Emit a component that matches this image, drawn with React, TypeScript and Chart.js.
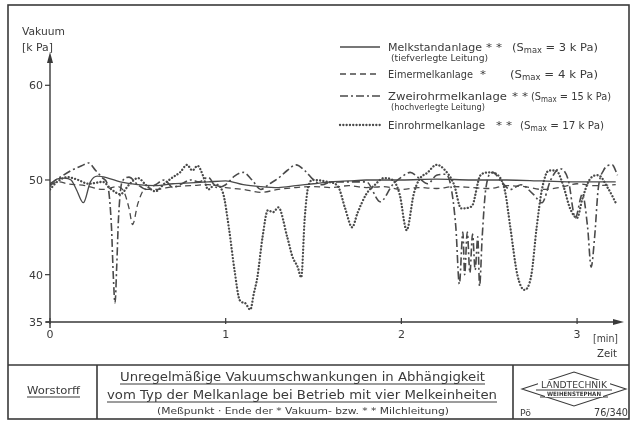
import React, { useEffect, useRef } from "react";
import { Chart, registerables } from "chart.js";

Chart.register(...registerables);

// ---- data (time in min, vacuum in kPa) ----
const melkstandTime = [0, 0.03, 0.08, 0.12, 0.15, 0.19, 0.23, 0.27, 0.33, 0.4, 0.5, 0.6, 0.7, 0.8, 0.9, 1.0, 1.1, 1.2, 1.3, 1.4, 1.5, 1.6, 1.7, 1.8, 1.9, 2.0, 2.2, 2.4, 2.6, 2.8, 3.0, 3.22];
const melkstandVac = [49.3, 50.0, 50.2, 50.0, 49.0, 47.6, 49.8, 50.4, 50.2, 49.8, 49.5, 49.4, 49.6, 49.7, 49.8, 49.9, 49.5, 49.3, 49.2, 49.4, 49.6, 49.8, 49.9, 50.0, 50.0, 50.0, 50.1, 50.0, 50.0, 49.9, 49.8, 49.8];

const eimerTime = [0, 0.05, 0.1, 0.2, 0.3, 0.38, 0.42, 0.45, 0.47, 0.5, 0.54, 0.6, 0.7, 0.8, 0.9, 1.0, 1.1, 1.2, 1.3, 1.4, 1.5, 1.6, 1.7, 1.8, 1.9, 2.0, 2.1, 2.2, 2.3, 2.4, 2.5, 2.6, 2.7, 2.8, 2.9, 3.0, 3.1, 3.22];
const eimerVac = [49.5, 49.8, 49.6, 49.4, 49.0, 49.3, 48.8, 47.0, 45.3, 47.5, 49.0, 49.0, 49.3, 49.4, 49.5, 49.2, 49.0, 48.7, 49.0, 49.2, 49.3, 49.2, 49.4, 49.2, 49.3, 49.0, 49.2, 49.1, 49.3, 49.2, 49.1, 49.4, 49.3, 49.0, 49.2, 49.6, 49.4, 49.5];

const zweirohrTime = [0, 0.05, 0.12, 0.18, 0.22, 0.26, 0.3, 0.33, 0.35, 0.36, 0.37, 0.38, 0.39, 0.41, 0.45, 0.5, 0.55, 0.6, 0.65, 0.7, 0.75, 0.8, 0.85, 0.9, 0.95, 1.0, 1.05, 1.1, 1.15, 1.2, 1.25, 1.3, 1.35, 1.4, 1.45, 1.5, 1.55, 1.6, 1.7, 1.8, 1.88, 1.95, 2.0, 2.05, 2.1, 2.15, 2.2, 2.25, 2.28, 2.31, 2.33, 2.35, 2.36, 2.375, 2.39, 2.405, 2.42, 2.435, 2.445, 2.46, 2.48, 2.52, 2.57, 2.62, 2.68, 2.75, 2.8, 2.85, 2.9, 2.95, 2.99, 3.03, 3.06, 3.08, 3.1, 3.12, 3.15, 3.2, 3.23];
const zweirohrVac = [49.6, 50.2, 51.0, 51.5, 51.8, 51.0, 50.2, 49.3, 45.0, 40.0, 37.0, 41.0, 46.0, 49.8, 50.3, 49.5, 49.0, 49.5, 50.0, 49.2, 49.6, 50.0, 49.8, 50.3, 49.2, 49.5, 50.4, 50.8, 50.0, 49.0, 49.6, 50.2, 51.0, 51.6, 51.0, 50.0, 49.5, 49.8, 49.8, 49.8, 47.7, 49.5, 50.3, 50.8, 50.2, 49.6, 50.5, 50.6, 49.5, 45.0, 39.0, 44.5, 40.0, 44.5, 40.2, 44.3, 40.5, 44.0, 38.8, 44.0, 49.0, 50.8, 49.8, 49.0, 49.5, 48.5, 47.6, 50.0, 51.2, 50.0, 46.0, 48.5, 45.0, 40.8, 44.0, 49.0, 51.0, 51.6, 50.5];

const einrohrTime = [0, 0.04, 0.1, 0.16, 0.22, 0.3, 0.35, 0.4, 0.45, 0.5, 0.55, 0.6, 0.65, 0.7, 0.74, 0.78, 0.81, 0.84, 0.87, 0.9, 0.94, 0.985, 1.02, 1.05, 1.08, 1.11, 1.14, 1.16, 1.18, 1.21, 1.24, 1.27, 1.3, 1.35, 1.38, 1.41, 1.43, 1.45, 1.47, 1.5, 1.58, 1.64, 1.68, 1.72, 1.75, 1.8, 1.85, 1.9, 1.95, 1.99, 2.03, 2.07, 2.1, 2.15, 2.2, 2.25, 2.3, 2.34, 2.4, 2.45, 2.5, 2.55, 2.59, 2.62, 2.66, 2.7, 2.74, 2.77, 2.8, 2.84, 2.88, 2.92, 2.96, 3.0, 3.03, 3.07, 3.12, 3.18, 3.22];
const einrohrVac = [49.0, 49.8, 50.3, 50.0, 49.6, 49.8, 49.0, 48.5, 49.5, 50.2, 49.4, 48.8, 49.6, 50.3, 50.8, 51.6, 51.0, 51.5, 50.5, 49.0, 49.5, 48.6, 44.7, 40.5, 37.3, 37.0, 36.3, 38.0, 39.7, 44.0, 46.8, 46.6, 47.1, 44.0, 41.9, 40.8, 39.7, 46.0, 49.3, 50.0, 49.8, 49.3, 47.0, 45.0, 46.5, 48.5, 49.5, 50.2, 50.0, 48.5, 44.7, 48.5, 50.0, 50.8, 51.6, 51.0, 49.5, 47.0, 47.2, 50.5, 50.8, 50.5, 48.8, 45.0, 40.0, 38.4, 40.0, 45.0, 49.0, 51.0, 51.0, 49.5, 47.0, 46.0, 48.0, 50.0, 50.5, 49.0, 47.6];

const yTickValues = [60, 50, 40, 35];
const yTickLabels = ["60", "50", "40", "35"];
const xTickValues = [0, 1, 2, 3];
const xTickLabels = ["0", "1", "2", "3"];

const seriesNames = ["Melkstandanlage", "Eimermelkanlage", "Zweirohrmelkanlage", "Einrohrmelkanlage"];
const seriesStars = ["* *", "*", "* *", "* *"];
const seriesSmax = ["3", "4", "15", "17"];
const seriesNotes = ["(tiefverlegte Leitung)", "", "(hochverlegte Leitung)", ""];

const INK = "#3a3a3a";
const LINE = "#4a4a4a";
const FONT = "'DejaVu Sans', 'Liberation Sans', sans-serif";

const dashStyles: { dash: number[]; width: number; cap: CanvasLineCap }[] = [
  { dash: [], width: 1.3, cap: "butt" },
  { dash: [6, 4], width: 1.3, cap: "butt" },
  { dash: [8, 3, 2, 3], width: 1.6, cap: "butt" },
  { dash: [0.1, 3.2], width: 2.3, cap: "round" },
];

function pts(t: number[], v: number[]) {
  return t.map((x, i) => ({ x, y: v[i] }));
}

function fitText(ctx: CanvasRenderingContext2D, text: string, x: number, y: number, font: string, width: number, align: "left" | "center" = "left") {
  ctx.save();
  ctx.font = font;
  const w = ctx.measureText(text).width;
  const s = width / w;
  const x0 = align === "center" ? x - width / 2 : x;
  ctx.translate(x0, y);
  ctx.scale(s, 1);
  ctx.textAlign = "left";
  ctx.fillText(text, 0, 0);
  ctx.restore();
}

function underline(ctx: CanvasRenderingContext2D, x1: number, x2: number, y: number) {
  ctx.beginPath();
  ctx.moveTo(x1, y);
  ctx.lineTo(x2, y);
  ctx.stroke();
}

const drawingPlugin = {
  id: "drawing",
  afterDraw(chart: any) {
    const ctx: CanvasRenderingContext2D = chart.ctx;
    const xs = chart.scales.x;
    const ys = chart.scales.y;
    ctx.save();
    ctx.fillStyle = INK;
    ctx.strokeStyle = INK;
    ctx.textBaseline = "alphabetic";

    // outer frame and title block
    ctx.lineWidth = 1.6;
    ctx.strokeRect(8, 5, 621, 414);
    ctx.beginPath();
    ctx.moveTo(8, 365); ctx.lineTo(629, 365);
    ctx.moveTo(97, 365); ctx.lineTo(97, 419);
    ctx.moveTo(513, 365); ctx.lineTo(513, 419);
    ctx.stroke();

    // axes
    const x0 = xs.getPixelForValue(0);
    const y35 = ys.getPixelForValue(35);
    const yTop = ys.getPixelForValue(ys.max);
    const xEnd = xs.getPixelForValue(xs.max);
    ctx.lineWidth = 1.4;
    ctx.beginPath();
    ctx.moveTo(x0, y35 + 6); ctx.lineTo(x0, yTop + 2);
    ctx.moveTo(x0 - 4, y35); ctx.lineTo(xEnd - 2, y35);
    ctx.stroke();
    // arrows
    ctx.beginPath();
    ctx.moveTo(x0, yTop - 3); ctx.lineTo(x0 - 3, yTop + 8); ctx.lineTo(x0 + 3, yTop + 8); ctx.closePath();
    ctx.fill();
    ctx.beginPath();
    ctx.moveTo(xEnd + 3, y35); ctx.lineTo(xEnd - 8, y35 - 3); ctx.lineTo(xEnd - 8, y35 + 3); ctx.closePath();
    ctx.fill();

    // y ticks
    ctx.lineWidth = 1.2;
    ctx.font = `11px ${FONT}`;
    ctx.textAlign = "right";
    yTickValues.forEach((v, i) => {
      const py = ys.getPixelForValue(v);
      ctx.beginPath(); ctx.moveTo(x0 - 5, py); ctx.lineTo(x0, py); ctx.stroke();
      ctx.fillText(yTickLabels[i], x0 - 7, py + 4);
    });
    // x ticks
    ctx.textAlign = "center";
    xTickValues.forEach((v, i) => {
      const px = xs.getPixelForValue(v);
      ctx.beginPath(); ctx.moveTo(px, y35 - 4); ctx.lineTo(px, y35 + 2); ctx.stroke();
      ctx.fillText(xTickLabels[i], px, y35 + 16);
    });

    // axis titles
    ctx.textAlign = "left";
    fitText(ctx, "Vakuum", 22, 35, `11px ${FONT}`, 43);
    fitText(ctx, "[k Pa]", 22, 51, `11px ${FONT}`, 31);
    fitText(ctx, "[min]", 593, 342, `11px ${FONT}`, 25);
    fitText(ctx, "Zeit", 597, 357, `10px ${FONT}`, 20);

    // legend
    const rows = [
      { y: 47, nameEnd: 482, starX: 486, starW: 16, parX: 512, parW: 86, noteY: 61, noteW: 97 },
      { y: 74, nameEnd: 473, starX: 480, starW: 6, parX: 510, parW: 88, noteY: 0, noteW: 0 },
      { y: 96, nameEnd: 507, starX: 512, starW: 16, parX: 531, parW: 80, noteY: 110, noteW: 94 },
      { y: 125, nameEnd: 485, starX: 496, starW: 16, parX: 520, parW: 84, noteY: 0, noteW: 0 },
    ];
    rows.forEach((r, i) => {
      const st = dashStyles[i];
      ctx.save();
      ctx.strokeStyle = LINE;
      ctx.lineWidth = st.width;
      ctx.setLineDash(st.dash);
      ctx.lineCap = st.cap;
      ctx.beginPath();
      ctx.moveTo(340, r.y); ctx.lineTo(380, r.y);
      ctx.stroke();
      ctx.restore();
      const base = r.y + 4;
      fitText(ctx, seriesNames[i], 388, base, `11px ${FONT}`, r.nameEnd - 388);
      fitText(ctx, seriesStars[i], r.starX, base, `10px ${FONT}`, r.starW);
      // (S_max = n k Pa)
      const f1 = `11px ${FONT}`;
      const f2 = `8px ${FONT}`;
      const a = "(S";
      const b = "max";
      const c = ` = ${seriesSmax[i]} k Pa)`;
      ctx.save();
      ctx.font = f1; const wa = ctx.measureText(a).width; const wc = ctx.measureText(c).width;
      ctx.font = f2; const wb = ctx.measureText(b).width;
      const total = wa + wb + wc;
      const s = r.parW / total;
      ctx.translate(r.parX, base);
      ctx.scale(s, 1);
      ctx.font = f1; ctx.fillText(a, 0, 0);
      ctx.font = f2; ctx.fillText(b, wa, 2);
      ctx.font = f1; ctx.fillText(c, wa + wb, 0);
      ctx.restore();
      if (seriesNotes[i]) {
        fitText(ctx, seriesNotes[i], 391, r.noteY, `8px ${FONT}`, r.noteW);
      }
    });

    // title block texts
    ctx.lineWidth = 1;
    fitText(ctx, "Worstorff", 27, 394, `10px ${FONT}`, 53);
    underline(ctx, 27, 80, 397);
    fitText(ctx, "Unregelmäßige Vakuumschwankungen in Abhängigkeit", 120, 381, `13px ${FONT}`, 365);
    underline(ctx, 120, 485, 384);
    fitText(ctx, "vom Typ der Melkanlage bei Betrieb mit vier Melkeinheiten", 107, 399, `13px ${FONT}`, 390);
    underline(ctx, 107, 497, 402);
    fitText(ctx, "(Meßpunkt · Ende der * Vakuum- bzw. * * Milchleitung)", 157, 414, `9px ${FONT}`, 292);

    // logo
    ctx.lineWidth = 1.1;
    ctx.beginPath();
    ctx.moveTo(522, 389); ctx.lineTo(574, 372); ctx.lineTo(626, 389); ctx.lineTo(574, 406); ctx.closePath();
    ctx.stroke();
    ctx.beginPath();
    ctx.moveTo(536, 390); ctx.lineTo(612, 390);
    ctx.moveTo(540, 397); ctx.lineTo(608, 397);
    ctx.stroke();
    ctx.fillStyle = "#ffffff";
    ctx.fillRect(538, 380, 72, 9);
    ctx.fillStyle = INK;
    fitText(ctx, "LANDTECHNIK", 574, 388, `9px ${FONT}`, 66, "center");
    ctx.fillStyle = "#ffffff";
    ctx.fillRect(545, 391, 58, 6);
    ctx.fillStyle = INK;
    fitText(ctx, "WEIHENSTEPHAN", 574, 396, `bold 6px ${FONT}`, 54, "center");
    fitText(ctx, "Pö", 520, 416, `9px ${FONT}`, 11);
    fitText(ctx, "76/340", 594, 416, `10px ${FONT}`, 34);

    ctx.restore();
  },
};

export default function App() {
  const ref = useRef<HTMLCanvasElement | null>(null);
  useEffect(() => {
    if (!ref.current) return;
    const mk = (label: string, t: number[], v: number[], i: number) => ({
      label,
      data: pts(t, v),
      borderColor: LINE,
      borderWidth: dashStyles[i].width,
      borderDash: dashStyles[i].dash,
      borderCapStyle: dashStyles[i].cap,
      pointRadius: 0,
      fill: false,
      cubicInterpolationMode: "monotone" as const,
    });
    const chart = new Chart(ref.current, {
      type: "line",
      data: {
        datasets: [
          mk(seriesNames[0], melkstandTime, melkstandVac, 0),
          mk(seriesNames[1], eimerTime, eimerVac, 1),
          mk(seriesNames[2], zweirohrTime, zweirohrVac, 2),
          mk(seriesNames[3], einrohrTime, einrohrVac, 3),
        ],
      },
      options: {
        animation: false,
        responsive: true,
        maintainAspectRatio: false,
        layout: { padding: { left: 50, right: 12, top: 55, bottom: 102 } },
        scales: {
          x: { type: "linear", min: 0, max: 3.25, display: false },
          y: { type: "linear", min: 35, max: 63.2, display: false },
        },
        plugins: { legend: { display: false }, tooltip: { enabled: false } },
      },
      plugins: [drawingPlugin],
    });
    return () => chart.destroy();
  }, []);
  return (
    <div style={{ position: "absolute", left: 0, top: 0, width: 633, height: 424, background: "#fff" }}>
      <canvas ref={ref} />
    </div>
  );
}
